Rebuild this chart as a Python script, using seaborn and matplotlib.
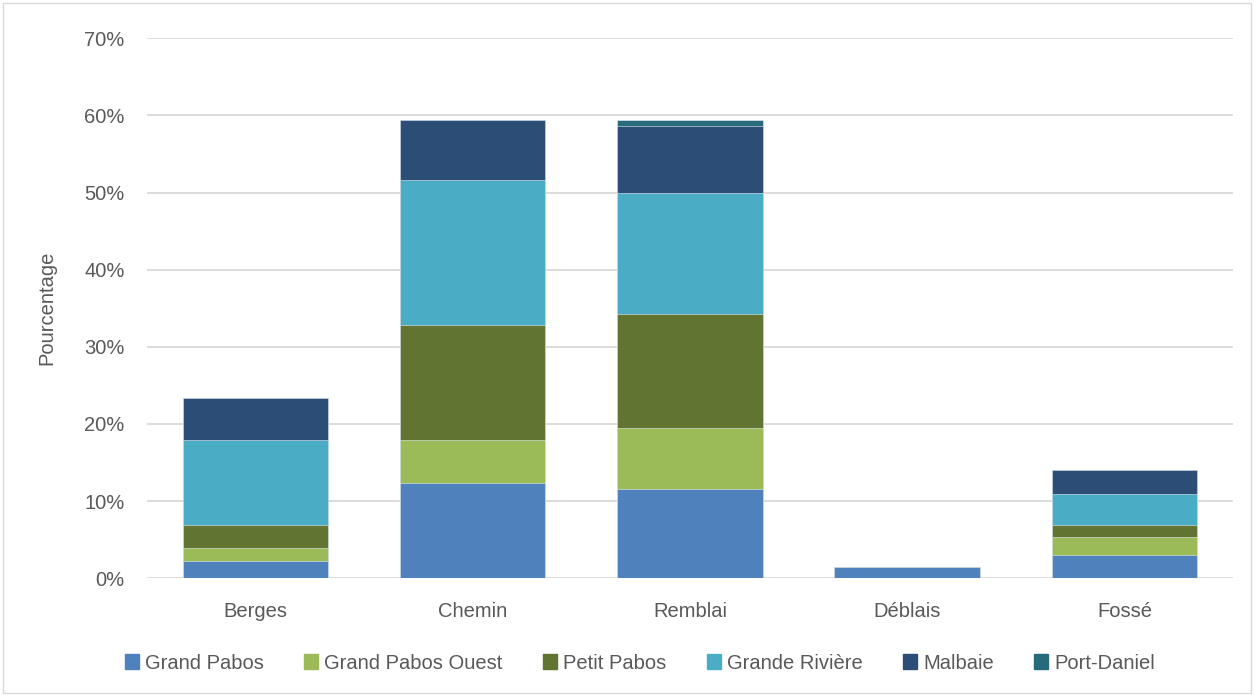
import pandas as pd
import matplotlib.pyplot as plt
import seaborn as sns
from matplotlib.patches import Patch, Rectangle
from matplotlib.ticker import PercentFormatter

# valeurs (%)
categories = ["Berges", "Chemin", "Remblai", "Déblais", "Fossé"]
series = ["Grand Pabos", "Grand Pabos Ouest", "Petit Pabos", "Grande Rivière", "Malbaie", "Port-Daniel"]
grand_pabos = [2.25, 12.4, 11.6, 1.5, 3.0]
grand_pabos_ouest = [1.65, 5.5, 7.9, 0.0, 2.4]
petit_pabos = [3.0, 14.9, 14.8, 0.0, 1.5]
grande_riviere = [11.0, 18.8, 15.7, 0.0, 4.0]
malbaie = [5.4, 7.8, 8.6, 0.0, 3.1]
port_daniel = [0.0, 0.0, 0.8, 0.0, 0.0]
couleurs = ["#4F81BD", "#9BBB59", "#617431", "#4BACC6", "#2C4E76", "#276A7C"]

df = pd.DataFrame({
    "Type": categories,
    "Grand Pabos": grand_pabos,
    "Grand Pabos Ouest": grand_pabos_ouest,
    "Petit Pabos": petit_pabos,
    "Grande Rivière": grande_riviere,
    "Malbaie": malbaie,
    "Port-Daniel": port_daniel,
})
cumul = df[series].cumsum(axis=1)
cumul["Type"] = df["Type"]

sns.set_style("white")
plt.rcParams["font.family"] = ["Liberation Sans", "DejaVu Sans"]
gris = "#595959"

fig = plt.figure(figsize=(12.55, 6.95), dpi=100)
ax = fig.add_axes([0.117, 0.168, 0.8655, 0.777])

# empilement : on dessine les cumuls du plus haut au plus bas
for s, c in reversed(list(zip(series, couleurs))):
    sns.barplot(data=cumul, x="Type", y=s, order=categories, color=c,
                width=0.67, saturation=1, ax=ax, zorder=3,
                edgecolor="#E8EEF5", linewidth=0.4)

ax.set_ylim(0, 70)
ax.set_yticks(range(0, 71, 10))
ax.yaxis.set_major_formatter(PercentFormatter(decimals=0))
ax.grid(axis="y", color="#D9D9D9", linewidth=1.3, zorder=0)
ax.set_axisbelow(True)
for sp in ax.spines.values():
    sp.set_visible(False)
ax.tick_params(axis="both", length=0, labelsize=14.5, labelcolor=gris)
ax.tick_params(axis="x", pad=17)
ax.tick_params(axis="y", pad=16)
ax.set_xlabel("")
ax.set_ylabel("Pourcentage", fontsize=14.5, color=gris, labelpad=20)

handles = [Patch(facecolor=c, edgecolor=c) for c in couleurs]
fig.legend(handles, series, loc="center", bbox_to_anchor=(0.51, 0.046), ncol=6,
           frameon=False, fontsize=14.5, labelcolor=gris, handlelength=0.7,
           handleheight=0.7, handletextpad=0.3, columnspacing=2.0)

fig.patches.append(Rectangle((0.002, 0.003), 0.995, 0.993, transform=fig.transFigure,
                             fill=False, edgecolor="#D9D9D9", linewidth=1))

fig.savefig("out.png", dpi=100)
